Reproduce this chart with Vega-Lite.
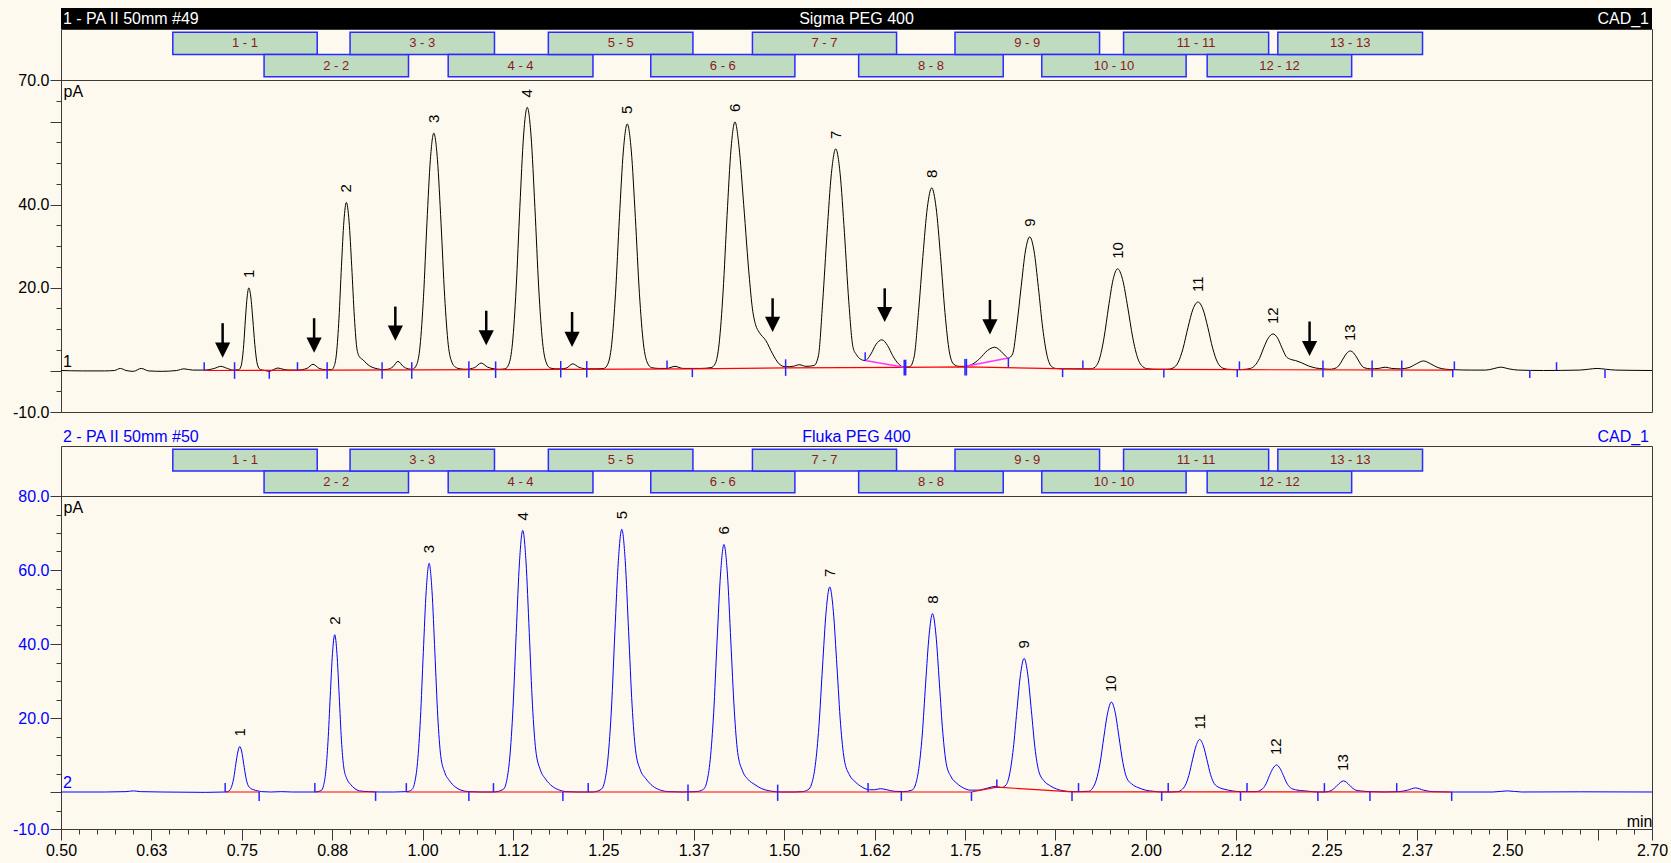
{
"$schema": "https://vega.github.io/schema/vega-lite/v6.json",
"background": "#FEF9EE",
"autosize": {"type": "none"},
"padding": {"left": 61, "top": 8, "right": 1610, "bottom": 855},
"config": {"font": "Liberation Sans", "view": {"stroke": "#3a3a3a", "strokeWidth": 1}},
"datasets": {
"top": [
{"t":0.5,"v":0},{"t":0.53,"v":-0.1},{"t":0.56,"v":-0.1},{"t":0.574,"v":0},{"t":0.582,"v":0.5},{"t":0.59,"v":0},{"t":0.6,"v":-0.2},{"t":0.611,"v":0.5},{"t":0.621,"v":-0.1},{"t":0.64,"v":-0.2},{"t":0.66,"v":0},{"t":0.67,"v":0.4},{"t":0.682,"v":0.1},{"t":0.698,"v":0.1},{"t":0.712,"v":0.5},{"t":0.721,"v":1.0},{"t":0.73,"v":0.5},{"t":0.738,"v":0.1},
{"t":0.7456,"v":0.2},{"t":0.748,"v":0.6},{"t":0.7503,"v":2.2},{"t":0.7527,"v":6.3},{"t":0.755,"v":12.4},{"t":0.7574,"v":17.7},{"t":0.7597,"v":19.9},{"t":0.7625,"v":17.7},{"t":0.7652,"v":12.4},{"t":0.768,"v":6.3},{"t":0.7707,"v":2.2},{"t":0.7735,"v":0.6},{"t":0.7762,"v":0.2},
{"t":0.782,"v":0},{"t":0.788,"v":-0.2},{"t":0.795,"v":0.3},{"t":0.8,"v":0.6},{"t":0.807,"v":0.3},{"t":0.815,"v":0.1},{"t":0.827,"v":0.1},{"t":0.84,"v":0.5},{"t":0.8485,"v":1.5},{"t":0.857,"v":0.5},{"t":0.866,"v":0.2},
{"t":0.8742,"v":0.2},{"t":0.8776,"v":1.0},{"t":0.881,"v":4.2},{"t":0.8844,"v":12.6},{"t":0.8878,"v":25.1},{"t":0.8912,"v":36.0},{"t":0.8946,"v":40.5},{"t":0.8983,"v":36.0},{"t":0.902,"v":25.1},{"t":0.9057,"v":12.8},{"t":0.9094,"v":5.0},{"t":0.9131,"v":3.2},{"t":0.9175,"v":2.6},{"t":0.923,"v":1.6},{"t":0.93,"v":0.8},{"t":0.938,"v":0.4},{"t":0.944,"v":0.2},
{"t":0.952,"v":0.3},{"t":0.959,"v":0.9},{"t":0.966,"v":2.2},{"t":0.973,"v":1.0},{"t":0.98,"v":0.4},{"t":0.986,"v":0.3},
{"t":0.9918,"v":1.4},{"t":0.9965,"v":5.9},{"t":1.0013,"v":17.9},{"t":1.006,"v":35.5},{"t":1.0108,"v":50.9},{"t":1.0155,"v":57.2},{"t":1.0205,"v":50.9},{"t":1.0255,"v":35.5},{"t":1.0305,"v":17.9},{"t":1.0355,"v":6.2},{"t":1.0405,"v":2.0},{"t":1.0455,"v":0.8},{"t":1.052,"v":0.4},{"t":1.06,"v":0.3},
{"t":1.072,"v":0.7},{"t":1.081,"v":1.8},{"t":1.09,"v":0.8},{"t":1.099,"v":0.4},{"t":1.106,"v":0.3},
{"t":1.1141,"v":0.4},{"t":1.1192,"v":1.5},{"t":1.1243,"v":6.6},{"t":1.1294,"v":19.9},{"t":1.1345,"v":39.3},{"t":1.1396,"v":56.5},{"t":1.1447,"v":63.4},{"t":1.15,"v":56.5},{"t":1.1553,"v":39.3},{"t":1.1606,"v":19.9},{"t":1.1659,"v":6.8},{"t":1.1712,"v":1.8},{"t":1.1765,"v":0.6},{"t":1.184,"v":0.4},{"t":1.191,"v":0.4},
{"t":1.199,"v":0.6},{"t":1.2076,"v":1.6},{"t":1.216,"v":0.8},{"t":1.227,"v":0.4},{"t":1.24,"v":0.4},
{"t":1.2506,"v":0.5},{"t":1.256,"v":1.5},{"t":1.2614,"v":6.2},{"t":1.2668,"v":18.6},{"t":1.2722,"v":36.9},{"t":1.2776,"v":52.9},{"t":1.283,"v":59.4},{"t":1.2886,"v":52.9},{"t":1.2942,"v":36.9},{"t":1.2998,"v":18.6},{"t":1.3054,"v":6.4},{"t":1.311,"v":1.8},{"t":1.3166,"v":0.7},{"t":1.326,"v":0.5},{"t":1.338,"v":0.5},{"t":1.349,"v":1.0},{"t":1.36,"v":0.5},{"t":1.373,"v":0.5},{"t":1.385,"v":0.5},
{"t":1.399,"v":0.7},{"t":1.4045,"v":1.6},{"t":1.41,"v":6.4},{"t":1.4155,"v":18.9},{"t":1.421,"v":37.3},{"t":1.4265,"v":53.4},{"t":1.432,"v":59.9},{"t":1.4375,"v":54.0},{"t":1.444,"v":40.0},{"t":1.452,"v":22.0},{"t":1.456,"v":15.0},{"t":1.4605,"v":11.0},{"t":1.4655,"v":9.2},{"t":1.4747,"v":7.2},{"t":1.484,"v":4.0},{"t":1.493,"v":1.6},{"t":1.502,"v":0.9},
{"t":1.512,"v":1.0},{"t":1.521,"v":1.4},{"t":1.53,"v":1.0},
{"t":1.5413,"v":1.2},{"t":1.5473,"v":3.5},{"t":1.5533,"v":16.7},{"t":1.5593,"v":33.2},{"t":1.5653,"v":47.5},{"t":1.5713,"v":53.4},{"t":1.5773,"v":47.5},{"t":1.5833,"v":33.2},{"t":1.5893,"v":16.7},{"t":1.5953,"v":5.5},{"t":1.6,"v":3.8},{"t":1.605,"v":2.8},{"t":1.612,"v":2.4},
{"t":1.62,"v":4.0},{"t":1.627,"v":6.3},{"t":1.635,"v":7.4},{"t":1.643,"v":6.0},{"t":1.65,"v":3.6},{"t":1.658,"v":1.6},{"t":1.666,"v":0.8},
{"t":1.6735,"v":0.9},{"t":1.6796,"v":3.2},{"t":1.6857,"v":14.0},{"t":1.6918,"v":27.5},{"t":1.6979,"v":39.2},{"t":1.704,"v":44.0},{"t":1.7101,"v":39.2},{"t":1.7162,"v":27.5},{"t":1.7223,"v":14.0},{"t":1.7284,"v":4.5},{"t":1.7345,"v":1.5},{"t":1.742,"v":1.0},{"t":1.751,"v":1.0},
{"t":1.76,"v":1.5},{"t":1.77,"v":2.8},{"t":1.781,"v":4.8},{"t":1.791,"v":5.6},{"t":1.8,"v":4.6},{"t":1.806,"v":3.5},{"t":1.81,"v":3.0},
{"t":1.8159,"v":4.0},{"t":1.8218,"v":11.0},{"t":1.8277,"v":20.2},{"t":1.8336,"v":28.8},{"t":1.8395,"v":32.2},{"t":1.8455,"v":28.8},{"t":1.8515,"v":20.0},{"t":1.8575,"v":10.2},{"t":1.8635,"v":3.6},{"t":1.8695,"v":1.0},{"t":1.8755,"v":0.5},{"t":1.885,"v":0.4},{"t":1.9,"v":0.4},{"t":1.913,"v":0.4},
{"t":1.9235,"v":0.4},{"t":1.9298,"v":0.8},{"t":1.936,"v":2.8},{"t":1.9423,"v":7.9},{"t":1.9485,"v":15.3},{"t":1.9548,"v":21.9},{"t":1.961,"v":24.5},{"t":1.968,"v":21.9},{"t":1.975,"v":15.3},{"t":1.982,"v":7.9},{"t":1.989,"v":2.9},{"t":1.996,"v":0.9},{"t":2.003,"v":0.4},{"t":2.015,"v":0.3},
{"t":2.0308,"v":0.3},{"t":2.0377,"v":0.6},{"t":2.0446,"v":1.9},{"t":2.0515,"v":5.3},{"t":2.0584,"v":10.4},{"t":2.0653,"v":14.8},{"t":2.0722,"v":16.5},{"t":2.079,"v":14.8},{"t":2.0858,"v":10.4},{"t":2.0926,"v":5.3},{"t":2.0994,"v":1.9},{"t":2.1062,"v":0.6},{"t":2.113,"v":0.3},{"t":2.128,"v":0.2},
{"t":2.138,"v":0.3},{"t":2.1447,"v":0.5},{"t":2.1509,"v":1.2},{"t":2.1572,"v":2.9},{"t":2.1634,"v":5.6},{"t":2.1697,"v":7.9},{"t":2.1759,"v":8.8},{"t":2.182,"v":7.9},{"t":2.188,"v":5.6},{"t":2.194,"v":3.4},{"t":2.2,"v":2.7},{"t":2.207,"v":2.4},{"t":2.215,"v":1.9},{"t":2.225,"v":1.1},{"t":2.235,"v":0.6},{"t":2.245,"v":0.4},
{"t":2.2546,"v":0.3},{"t":2.264,"v":0.7},{"t":2.2687,"v":1.6},{"t":2.2734,"v":3.0},{"t":2.2781,"v":4.2},{"t":2.2828,"v":4.7},{"t":2.2875,"v":4.2},{"t":2.2922,"v":3.0},{"t":2.2969,"v":1.6},{"t":2.3016,"v":0.7},{"t":2.311,"v":0.4},
{"t":2.322,"v":0.5},{"t":2.331,"v":0.8},{"t":2.34,"v":0.5},{"t":2.352,"v":0.4},{"t":2.364,"v":0.7},{"t":2.374,"v":1.6},{"t":2.384,"v":2.3},{"t":2.394,"v":1.6},{"t":2.404,"v":0.7},{"t":2.415,"v":0.3},{"t":2.425,"v":0.2},{"t":2.45,"v":0.1},{"t":2.47,"v":0.1},{"t":2.48,"v":0.4},{"t":2.491,"v":0.8},{"t":2.502,"v":0.4},{"t":2.515,"v":0.1},{"t":2.55,"v":0},{"t":2.6,"v":0.1},{"t":2.612,"v":0.3},{"t":2.624,"v":0.5},{"t":2.636,"v":0.3},{"t":2.65,"v":0.1},{"t":2.7,"v":0}
],
"bot": [
{"t":0.5,"v":0},{"t":0.56,"v":0},{"t":0.59,"v":0.1},{"t":0.6,"v":0.3},{"t":0.61,"v":0.1},{"t":0.64,"v":0},{"t":0.7,"v":-0.1},{"t":0.727,"v":0},
{"t":0.7307,"v":0.1},{"t":0.7335,"v":0.5},{"t":0.7362,"v":1.6},{"t":0.739,"v":3.9},{"t":0.7417,"v":7.5},{"t":0.7445,"v":10.8},{"t":0.7472,"v":12.3},{"t":0.75,"v":10.8},{"t":0.7527,"v":7.5},{"t":0.7555,"v":4.1},{"t":0.7582,"v":2.0},{"t":0.7621,"v":1.0},{"t":0.7665,"v":0.6},{"t":0.772,"v":0.3},{"t":0.7775,"v":0.1},{"t":0.79,"v":0},{"t":0.805,"v":0.1},{"t":0.82,"v":0},{"t":0.851,"v":0},
{"t":0.8599,"v":0.4},{"t":0.863,"v":1.7},{"t":0.8661,"v":5.5},{"t":0.8692,"v":13.6},{"t":0.8723,"v":25.9},{"t":0.8754,"v":37.4},{"t":0.8785,"v":42.5},{"t":0.8816,"v":37.4},{"t":0.8847,"v":25.9},{"t":0.8878,"v":14.0},{"t":0.8909,"v":6.8},{"t":0.8952,"v":3.6},{"t":0.9002,"v":2.1},{"t":0.9064,"v":0.9},{"t":0.9126,"v":0.3},{"t":0.925,"v":0.1},{"t":0.94,"v":0},{"t":0.96,"v":0},{"t":0.978,"v":0.1},
{"t":0.985,"v":0.6},{"t":0.989,"v":2.5},{"t":0.993,"v":8.0},{"t":0.997,"v":19.8},{"t":1.001,"v":37.7},{"t":1.005,"v":54.4},{"t":1.009,"v":61.8},{"t":1.013,"v":54.4},{"t":1.017,"v":37.7},{"t":1.021,"v":20.4},{"t":1.025,"v":9.9},{"t":1.0306,"v":5.3},{"t":1.037,"v":3.1},{"t":1.045,"v":1.4},{"t":1.053,"v":0.5},{"t":1.064,"v":0.1},{"t":1.08,"v":0},{"t":1.098,"v":0},
{"t":1.1115,"v":0.7},{"t":1.116,"v":2.8},{"t":1.1205,"v":9.2},{"t":1.125,"v":22.6},{"t":1.1295,"v":43.1},{"t":1.134,"v":62.2},{"t":1.1385,"v":70.7},{"t":1.143,"v":62.2},{"t":1.1475,"v":43.1},{"t":1.152,"v":23.3},{"t":1.1565,"v":11.3},{"t":1.1628,"v":6.0},{"t":1.17,"v":3.5},{"t":1.179,"v":1.6},{"t":1.188,"v":0.6},{"t":1.198,"v":0.1},{"t":1.215,"v":0},{"t":1.235,"v":0},
{"t":1.2469,"v":0.7},{"t":1.2517,"v":2.8},{"t":1.2564,"v":9.2},{"t":1.2612,"v":22.7},{"t":1.2659,"v":43.3},{"t":1.2707,"v":62.5},{"t":1.2754,"v":71.0},{"t":1.2802,"v":62.5},{"t":1.2849,"v":43.3},{"t":1.2897,"v":23.4},{"t":1.2944,"v":11.4},{"t":1.301,"v":6.0},{"t":1.3087,"v":3.6},{"t":1.3182,"v":1.6},{"t":1.3277,"v":0.6},{"t":1.34,"v":0.1},{"t":1.36,"v":0},{"t":1.378,"v":0.1},
{"t":1.3882,"v":0.7},{"t":1.393,"v":2.7},{"t":1.3977,"v":8.7},{"t":1.4025,"v":21.4},{"t":1.4072,"v":40.8},{"t":1.412,"v":58.9},{"t":1.4167,"v":66.9},{"t":1.4215,"v":58.9},{"t":1.4262,"v":40.8},{"t":1.431,"v":22.1},{"t":1.4357,"v":10.7},{"t":1.4424,"v":5.7},{"t":1.45,"v":3.4},{"t":1.4595,"v":2.0},{"t":1.469,"v":0.9},{"t":1.48,"v":0.3},{"t":1.495,"v":0},{"t":1.515,"v":0},{"t":1.525,"v":0.1},
{"t":1.533,"v":0.6},{"t":1.538,"v":2.2},{"t":1.543,"v":7.2},{"t":1.548,"v":17.7},{"t":1.553,"v":33.8},{"t":1.558,"v":48.8},{"t":1.563,"v":55.4},{"t":1.568,"v":48.8},{"t":1.573,"v":33.8},{"t":1.578,"v":18.3},{"t":1.583,"v":8.9},{"t":1.59,"v":4.7},{"t":1.598,"v":2.8},{"t":1.608,"v":1.3},{"t":1.618,"v":0.6},{"t":1.625,"v":0.6},{"t":1.633,"v":0.9},{"t":1.642,"v":0.6},{"t":1.652,"v":0.2},{"t":1.665,"v":0.1},
{"t":1.6766,"v":0.5},{"t":1.6814,"v":1.9},{"t":1.6861,"v":6.3},{"t":1.6909,"v":15.4},{"t":1.6956,"v":29.4},{"t":1.7004,"v":42.4},{"t":1.7051,"v":48.2},{"t":1.7099,"v":42.4},{"t":1.7146,"v":29.4},{"t":1.7194,"v":15.9},{"t":1.7241,"v":7.7},{"t":1.7308,"v":4.1},{"t":1.7384,"v":2.4},{"t":1.7479,"v":1.1},{"t":1.7574,"v":0.5},{"t":1.768,"v":0.5},{"t":1.78,"v":1.0},{"t":1.792,"v":1.5},{"t":1.8,"v":1.2},
{"t":1.8068,"v":1.9},{"t":1.8118,"v":4.9},{"t":1.8168,"v":11.7},{"t":1.8218,"v":22.0},{"t":1.8268,"v":31.8},{"t":1.8318,"v":36.1},{"t":1.8368,"v":31.8},{"t":1.8418,"v":22.0},{"t":1.8468,"v":11.9},{"t":1.8518,"v":5.8},{"t":1.8588,"v":3.1},{"t":1.8668,"v":1.8},{"t":1.8768,"v":0.8},{"t":1.8868,"v":0.3},{"t":1.898,"v":0.1},{"t":1.91,"v":0.1},
{"t":1.921,"v":0.2},{"t":1.9263,"v":1.0},{"t":1.9315,"v":3.2},{"t":1.9368,"v":7.8},{"t":1.942,"v":14.8},{"t":1.9473,"v":21.4},{"t":1.9525,"v":24.3},{"t":1.9578,"v":21.4},{"t":1.963,"v":14.8},{"t":1.9683,"v":8.0},{"t":1.9735,"v":3.9},{"t":1.981,"v":2.1},{"t":1.9893,"v":1.2},{"t":1.9998,"v":0.5},{"t":2.0103,"v":0.2},{"t":2.022,"v":0},{"t":2.035,"v":0},
{"t":2.0446,"v":0.1},{"t":2.0496,"v":0.6},{"t":2.0546,"v":1.8},{"t":2.0596,"v":4.5},{"t":2.0646,"v":8.7},{"t":2.0696,"v":12.5},{"t":2.0746,"v":14.2},{"t":2.0796,"v":12.5},{"t":2.0846,"v":8.7},{"t":2.0896,"v":4.7},{"t":2.0946,"v":2.3},{"t":2.1016,"v":1.2},{"t":2.1096,"v":0.7},{"t":2.1196,"v":0.3},{"t":2.131,"v":0.1},
{"t":2.1522,"v":0.1},{"t":2.1617,"v":0.9},{"t":2.1665,"v":2.3},{"t":2.1712,"v":4.5},{"t":2.176,"v":6.4},{"t":2.1807,"v":7.3},{"t":2.1855,"v":6.4},{"t":2.1902,"v":4.5},{"t":2.195,"v":2.4},{"t":2.1997,"v":1.2},{"t":2.207,"v":0.6},{"t":2.214,"v":0.4},{"t":2.225,"v":0.2},{"t":2.238,"v":0},
{"t":2.2479,"v":0},{"t":2.2564,"v":0.4},{"t":2.2607,"v":1.0},{"t":2.2649,"v":1.8},{"t":2.2692,"v":2.6},{"t":2.2734,"v":3.0},{"t":2.2777,"v":2.6},{"t":2.2819,"v":1.8},{"t":2.2862,"v":1.0},{"t":2.2904,"v":0.5},{"t":2.2964,"v":0.3},{"t":2.31,"v":0.1},{"t":2.33,"v":0},{"t":2.35,"v":0.1},{"t":2.362,"v":0.5},{"t":2.373,"v":1.1},{"t":2.384,"v":0.5},{"t":2.396,"v":0.1},{"t":2.42,"v":0},{"t":2.48,"v":0},{"t":2.5,"v":0.3},{"t":2.52,"v":0},{"t":2.6,"v":0.05},{"t":2.7,"v":0}
],
"topbase": [{"seg":"a","t":0.698,"v":0},{"seg":"a","t":1.1,"v":0.2},{"seg":"a","t":1.373,"v":0.4},{"seg":"a","t":1.502,"v":0.65},{"seg":"a","t":1.666,"v":0.75},{"seg":"a","t":1.751,"v":0.85},{"seg":"a","t":1.913,"v":0.35},{"seg":"a","t":2.128,"v":0.2},{"seg":"a","t":2.425,"v":0.1}],
"botbase": [{"seg":"a","t":0.727,"v":0},{"seg":"a","t":0.774,"v":0},{"seg":"b","t":0.851,"v":0},{"seg":"b","t":0.935,"v":0},{"seg":"c","t":0.9775,"v":0},{"seg":"c","t":1.759,"v":0},{"seg":"c","t":1.794,"v":1.3},{"seg":"c","t":1.898,"v":0.05},{"seg":"c","t":2.423,"v":0}],
"magenta": [{"seg":"a","t":1.612,"v":2.4},{"seg":"a","t":1.666,"v":0.8},{"seg":"b","t":1.751,"v":1.0},{"seg":"b","t":1.81,"v":3.0}],
"topticks": [{"t":0.698,"lo":0,"hi":2},{"t":0.74,"lo":-2,"hi":2},{"t":0.788,"lo":-2,"hi":0},{"t":0.827,"lo":0,"hi":2},{"t":0.868,"lo":-2,"hi":2},{"t":0.944,"lo":-2,"hi":2},{"t":0.985,"lo":-2,"hi":2},{"t":1.064,"lo":-1.8,"hi":2.2},{"t":1.101,"lo":-1.8,"hi":2.2},{"t":1.191,"lo":-1.7,"hi":2.3},{"t":1.227,"lo":-1.7,"hi":2.3},{"t":1.338,"lo":0.4,"hi":2.4},{"t":1.373,"lo":-1.6,"hi":0.4},{"t":1.502,"lo":-1.3,"hi":2.7},{"t":1.612,"lo":2.4,"hi":4.4},{"t":1.666,"lo":-1.2,"hi":2.6},{"t":1.668,"lo":-1.2,"hi":2.6},{"t":1.75,"lo":-1.2,"hi":2.8},{"t":1.752,"lo":-1.2,"hi":2.8},{"t":1.81,"lo":0.8,"hi":3.0},{"t":1.885,"lo":-1.6,"hi":0.4},{"t":1.913,"lo":0.4,"hi":2.4},{"t":2.025,"lo":-1.7,"hi":0.3},{"t":2.1265,"lo":-1.6,"hi":0.2},{"t":2.1295,"lo":0.2,"hi":2.2},{"t":2.245,"lo":-1.6,"hi":2.4},{"t":2.313,"lo":-1.6,"hi":2.4},{"t":2.354,"lo":-1.6,"hi":2.4},{"t":2.4245,"lo":-1.6,"hi":0.1},{"t":2.4267,"lo":0.1,"hi":2.2},{"t":2.531,"lo":-1.8,"hi":0.1},{"t":2.568,"lo":0.1,"hi":2.0},{"t":2.635,"lo":-1.8,"hi":0.1}],
"botticks": [{"t":0.727,"lo":0,"hi":2.4},{"t":0.774,"lo":-2.4,"hi":0},{"t":0.851,"lo":0,"hi":2.4},{"t":0.935,"lo":-2.4,"hi":0},{"t":0.9775,"lo":0,"hi":2.4},{"t":1.064,"lo":-2.4,"hi":0},{"t":1.098,"lo":0,"hi":2.4},{"t":1.194,"lo":-2.4,"hi":0},{"t":1.229,"lo":0,"hi":2.4},{"t":1.367,"lo":-2.4,"hi":2.0},{"t":1.491,"lo":-2.4,"hi":2.0},{"t":1.616,"lo":0,"hi":2.4},{"t":1.662,"lo":-2.4,"hi":0},{"t":1.759,"lo":-2.4,"hi":0},{"t":1.794,"lo":1.3,"hi":3.4},{"t":1.898,"lo":-2.4,"hi":0},{"t":1.907,"lo":0,"hi":2.4},{"t":2.022,"lo":-2.4,"hi":0},{"t":2.031,"lo":0,"hi":2.4},{"t":2.131,"lo":-2.4,"hi":0},{"t":2.14,"lo":0,"hi":2.4},{"t":2.238,"lo":-2.4,"hi":0},{"t":2.247,"lo":0,"hi":2.4},{"t":2.31,"lo":-2.4,"hi":0},{"t":2.347,"lo":0,"hi":2.4},{"t":2.423,"lo":-2.4,"hi":0}],
"toplabels": [{"t":0.7597,"v":19.9,"label":"1"},{"t":0.8946,"v":40.5,"label":"2"},{"t":1.0155,"v":57.2,"label":"3"},{"t":1.1447,"v":63.4,"label":"4"},{"t":1.283,"v":59.4,"label":"5"},{"t":1.432,"v":59.9,"label":"6"},{"t":1.5713,"v":53.4,"label":"7"},{"t":1.704,"v":44.0,"label":"8"},{"t":1.8395,"v":32.2,"label":"9"},{"t":1.961,"v":24.5,"label":"10"},{"t":2.0722,"v":16.5,"label":"11"},{"t":2.1759,"v":8.8,"label":"12"},{"t":2.2828,"v":4.7,"label":"13"}],
"botlabels": [{"t":0.7472,"v":12.3,"label":"1"},{"t":0.8785,"v":42.5,"label":"2"},{"t":1.009,"v":61.8,"label":"3"},{"t":1.1385,"v":70.7,"label":"4"},{"t":1.2754,"v":71.0,"label":"5"},{"t":1.4167,"v":66.9,"label":"6"},{"t":1.563,"v":55.4,"label":"7"},{"t":1.7051,"v":48.2,"label":"8"},{"t":1.8318,"v":36.1,"label":"9"},{"t":1.9525,"v":24.3,"label":"10"},{"t":2.0746,"v":14.2,"label":"11"},{"t":2.1807,"v":7.3,"label":"12"},{"t":2.2734,"v":3.0,"label":"13"}],
"arrows": [{"t":0.7235,"top":11.4,"head":4.9},{"t":0.85,"top":12.6,"head":6.1},{"t":0.9623,"top":15.4,"head":9.0},{"t":1.088,"top":14.4,"head":7.9},{"t":1.2067,"top":14.1,"head":7.5},{"t":1.484,"top":17.4,"head":11.1},{"t":1.639,"top":19.8,"head":13.5},{"t":1.7845,"top":17.0,"head":10.5},{"t":2.2265,"top":11.8,"head":5.3}],
"boxes": [{"lane":"a","label":"1 - 1","start":0.6546,"end":0.8543},{"lane":"b","label":"2 - 2","start":0.7808,"end":0.9805},{"lane":"a","label":"3 - 3","start":0.8997,"end":1.0994},{"lane":"b","label":"4 - 4","start":1.0354,"end":1.2356},{"lane":"a","label":"5 - 5","start":1.1739,"end":1.3738},{"lane":"b","label":"6 - 6","start":1.3155,"end":1.5148},{"lane":"a","label":"7 - 7","start":1.4561,"end":1.6554},{"lane":"b","label":"8 - 8","start":1.603,"end":1.8029},{"lane":"a","label":"9 - 9","start":1.7362,"end":1.9361},{"lane":"b","label":"10 - 10","start":1.8562,"end":2.0558},{"lane":"a","label":"11 - 11","start":1.9693,"end":2.1699},{"lane":"b","label":"12 - 12","start":2.0849,"end":2.2847},{"lane":"a","label":"13 - 13","start":2.1826,"end":2.3827}]
},
"bounds": "flush",
"spacing": 0,
"vconcat": [
 {"width": 1591, "height": 21, "view": {"fill": "#000000", "stroke": null},
  "layer": [
   {"data": {"values": [{"t": 0.5, "label": "1 - PA II 50mm #49"}]}, "mark": {"type": "text", "align": "left", "dx": 2, "fontSize": 16, "color": "#ffffff"}, "encoding": {"x": {"field": "t", "type": "quantitative", "scale": {"domain": [0.5, 2.7], "nice": false, "zero": false}, "axis": null}, "text": {"field": "label"}}},
   {"data": {"values": [{"t": 1.6, "label": "Sigma PEG 400"}]}, "mark": {"type": "text", "align": "center", "fontSize": 16, "color": "#ffffff"}, "encoding": {"x": {"field": "t", "type": "quantitative", "axis": null}, "text": {"field": "label"}}},
   {"data": {"values": [{"t": 2.7, "label": "CAD_1"}]}, "mark": {"type": "text", "align": "right", "dx": -3, "fontSize": 16, "color": "#ffffff"}, "encoding": {"x": {"field": "t", "type": "quantitative", "axis": null}, "text": {"field": "label"}}}
  ]},
 {"width": 1591, "height": 51, "data": {"name": "boxes"}, "transform": [{"calculate": "(datum.start + datum.end) / 2", "as": "mid"}],
  "layer": [
   {"mark": {"type": "rect", "fill": "#C0DCC0", "stroke": "#2B2BFF", "strokeWidth": 1.5}, "encoding": {"x": {"field": "start", "type": "quantitative", "scale": {"domain": [0.5, 2.7], "nice": false, "zero": false}, "axis": null}, "x2": {"field": "end"}, "y": {"field": "lane", "type": "nominal", "scale": {"domain": ["a", "b"], "paddingInner": 0, "paddingOuter": 0.15}, "axis": null}}},
   {"mark": {"type": "text", "fontSize": 13, "color": "#8B1A1A"}, "encoding": {"x": {"field": "mid", "type": "quantitative", "axis": null}, "y": {"field": "lane", "type": "nominal", "axis": null}, "text": {"field": "label"}}}
  ]},
 {"width": 1591, "height": 332,
  "resolve": {"axis": {"y": "independent"}},
  "layer": [
   {"data": {"name": "top"}, "mark": {"type": "line", "color": "#000000", "strokeWidth": 1, "interpolate": "monotone"},
    "encoding": {"x": {"field": "t", "type": "quantitative", "scale": {"domain": [0.5, 2.7], "nice": false, "zero": false}, "axis": null},
     "y": {"field": "v", "type": "quantitative", "scale": {"domain": [-10, 70], "nice": false, "zero": false},
      "axis": {"orient": "left", "values": [70,60,40,20,0,-10], "grid": false, "tickSize": 11,
       "labelExpr": "indexof([70,40,20,-10], datum.value) >= 0 ? (datum.value < 0 ? '-' + format(-datum.value, '.1f') : format(datum.value, '.1f')) : ''",
       "labelPadding": 1, "labelFontSize": 16, "labelColor": "#000000", "labelOverlap": false, "labelFlush": false, "labelBound": false,
       "domainColor": "#3a3a3a", "tickColor": "#3a3a3a",
       "title": "pA", "titleAngle": 0, "titleX": 2, "titleY": 3, "titleAlign": "left", "titleBaseline": "top", "titleFontWeight": "normal", "titleFontSize": 16, "titleColor": "#000000"}}}},
   {"data": {"name": "topbase"}, "mark": {"type": "line", "color": "#FF0000", "strokeWidth": 1.2}, "encoding": {"x": {"field": "t", "type": "quantitative", "axis": null}, "y": {"field": "v", "type": "quantitative", "axis": {"orient": "left", "values": [65,55,50,45,35,30,25,15,10,5,-5], "tickSize": 5, "labels": false, "domain": false, "grid": false, "title": null, "tickColor": "#3a3a3a"}}, "detail": {"field": "seg"}}},
   {"data": {"name": "magenta"}, "mark": {"type": "line", "color": "#FF33FF", "strokeWidth": 1.5}, "encoding": {"x": {"field": "t", "type": "quantitative", "axis": null}, "y": {"field": "v", "type": "quantitative", "axis": null}, "detail": {"field": "seg"}}},
   {"data": {"name": "topticks"}, "mark": {"type": "rule", "color": "#2626FF", "strokeWidth": 1.5}, "encoding": {"x": {"field": "t", "type": "quantitative", "axis": null}, "y": {"field": "lo", "type": "quantitative", "axis": null}, "y2": {"field": "hi"}}},
   {"data": {"name": "arrows"}, "mark": {"type": "rule", "color": "#000000", "strokeWidth": 2.5}, "encoding": {"x": {"field": "t", "type": "quantitative", "axis": null}, "y": {"field": "top", "type": "quantitative", "axis": null}, "y2": {"field": "head"}}},
   {"data": {"name": "arrows"}, "mark": {"type": "point", "shape": "M-1,-1L1,-1L0,1Z", "size": 230, "filled": true, "color": "#000000", "opacity": 1, "strokeWidth": 0}, "encoding": {"x": {"field": "t", "type": "quantitative", "axis": null}, "y": {"field": "head", "type": "quantitative", "axis": null}}},
   {"data": {"name": "toplabels"}, "mark": {"type": "text", "angle": 270, "align": "left", "baseline": "middle", "dx": 10, "fontSize": 15, "color": "#000000"}, "encoding": {"x": {"field": "t", "type": "quantitative", "axis": null}, "y": {"field": "v", "type": "quantitative", "axis": null}, "text": {"field": "label"}}},
   {"data": {"values": [{"t": 0.5, "v": 0, "label": "1"}]}, "mark": {"type": "text", "align": "left", "baseline": "bottom", "dx": 2, "dy": -1, "fontSize": 16, "color": "#000000"}, "encoding": {"x": {"field": "t", "type": "quantitative", "axis": null}, "y": {"field": "v", "type": "quantitative", "axis": null}, "text": {"field": "label"}}}
  ]},
 {"width": 1591, "height": 34, "view": {"stroke": null},
  "layer": [
   {"data": {"values": [{"t": 0.5, "label": "2 - PA II 50mm #50"}]}, "mark": {"type": "text", "align": "left", "baseline": "bottom", "dx": 2, "dy": -1, "fontSize": 16, "color": "#0000FF"}, "encoding": {"x": {"field": "t", "type": "quantitative", "scale": {"domain": [0.5, 2.7], "nice": false, "zero": false}, "axis": null}, "y": {"datum": 0, "type": "quantitative", "scale": {"domain": [0, 1]}, "axis": null}, "text": {"field": "label"}}},
   {"data": {"values": [{"t": 1.6, "label": "Fluka PEG 400"}]}, "mark": {"type": "text", "align": "center", "baseline": "bottom", "dy": -1, "fontSize": 16, "color": "#0000FF"}, "encoding": {"x": {"field": "t", "type": "quantitative", "axis": null}, "y": {"datum": 0, "type": "quantitative", "axis": null}, "text": {"field": "label"}}},
   {"data": {"values": [{"t": 2.7, "label": "CAD_1"}]}, "mark": {"type": "text", "align": "right", "baseline": "bottom", "dx": -3, "dy": -1, "fontSize": 16, "color": "#0000FF"}, "encoding": {"x": {"field": "t", "type": "quantitative", "axis": null}, "y": {"datum": 0, "type": "quantitative", "axis": null}, "text": {"field": "label"}}}
  ]},
 {"width": 1591, "height": 50, "data": {"name": "boxes"}, "transform": [{"calculate": "(datum.start + datum.end) / 2", "as": "mid"}],
  "layer": [
   {"mark": {"type": "rect", "fill": "#C0DCC0", "stroke": "#2B2BFF", "strokeWidth": 1.5}, "encoding": {"x": {"field": "start", "type": "quantitative", "scale": {"domain": [0.5, 2.7], "nice": false, "zero": false}, "axis": null}, "x2": {"field": "end"}, "y": {"field": "lane", "type": "nominal", "scale": {"domain": ["a", "b"], "paddingInner": 0, "paddingOuter": 0.15}, "axis": null}}},
   {"mark": {"type": "text", "fontSize": 13, "color": "#8B1A1A"}, "encoding": {"x": {"field": "mid", "type": "quantitative", "axis": null}, "y": {"field": "lane", "type": "nominal", "axis": null}, "text": {"field": "label"}}}
  ]},
 {"width": 1591, "height": 333,
  "resolve": {"axis": {"x": "independent", "y": "independent"}},
  "layer": [
   {"data": {"name": "bot"}, "mark": {"type": "line", "color": "#0000FF", "strokeWidth": 1, "interpolate": "monotone"},
    "encoding": {"x": {"field": "t", "type": "quantitative", "scale": {"domain": [0.5, 2.7], "nice": false, "zero": false},
      "axis": {"orient": "bottom", "values": [0.5,0.625,0.75,0.875,1,1.125,1.25,1.375,1.5,1.625,1.75,1.875,2,2.125,2.25,2.375,2.5,2.625,2.7], "grid": false, "tickSize": 11,
       "labelExpr": "abs(datum.value - 2.625) < 0.001 ? '' : (datum.value < 0.9 ? format(datum.value, '.2f') : format(floor(datum.value*100 + 0.000001)/100, '.2f'))",
       "labelPadding": 2, "labelFontSize": 16, "labelColor": "#000000", "labelOverlap": false, "labelFlush": false, "labelBound": false,
       "domainColor": "#3a3a3a", "tickColor": "#3a3a3a",
       "title": "min", "titleAnchor": "end", "titleY": -3, "titleBaseline": "alphabetic", "titleFontWeight": "normal", "titleFontSize": 16, "titleColor": "#000000"}},
     "y": {"field": "v", "type": "quantitative", "scale": {"domain": [-10, 80], "nice": false, "zero": false},
      "axis": {"orient": "left", "values": [80,60,40,20,0,-10], "grid": false, "tickSize": 11,
       "labelExpr": "indexof([80,60,40,20,-10], datum.value) >= 0 ? (datum.value < 0 ? '-' + format(-datum.value, '.1f') : format(datum.value, '.1f')) : ''",
       "labelPadding": 1, "labelFontSize": 16, "labelColor": "#0000FF", "labelOverlap": false, "labelFlush": false, "labelBound": false,
       "domainColor": "#3a3a3a", "tickColor": "#3a3a3a",
       "title": "pA", "titleAngle": 0, "titleX": 2, "titleY": 3, "titleAlign": "left", "titleBaseline": "top", "titleFontWeight": "normal", "titleFontSize": 16, "titleColor": "#000000"}}}},
   {"data": {"name": "botbase"}, "mark": {"type": "line", "color": "#FF0000", "strokeWidth": 1.2},
    "encoding": {"x": {"field": "t", "type": "quantitative", "axis": {"orient": "bottom", "values": [0.525,0.55,0.575,0.6,0.65,0.675,0.7,0.725,0.775,0.8,0.825,0.85,0.9,0.925,0.95,0.975,1.025,1.05,1.075,1.1,1.15,1.175,1.2,1.225,1.275,1.3,1.325,1.35,1.4,1.425,1.45,1.475,1.525,1.55,1.575,1.6,1.65,1.675,1.7,1.725,1.775,1.8,1.825,1.85,1.9,1.925,1.95,1.975,2.025,2.05,2.075,2.1,2.15,2.175,2.2,2.225,2.275,2.3,2.325,2.35,2.4,2.425,2.45,2.475,2.525,2.55,2.575,2.6,2.65,2.675], "tickSize": 5, "labels": false, "domain": false, "grid": false, "title": null, "tickColor": "#3a3a3a"}},
     "y": {"field": "v", "type": "quantitative", "axis": {"orient": "left", "values": [75,70,65,55,50,45,35,30,25,15,10,5,-5], "tickSize": 5, "labels": false, "domain": false, "grid": false, "title": null, "tickColor": "#3a3a3a"}}, "detail": {"field": "seg"}}},
   {"data": {"name": "botticks"}, "mark": {"type": "rule", "color": "#2626FF", "strokeWidth": 1.5}, "encoding": {"x": {"field": "t", "type": "quantitative", "axis": null}, "y": {"field": "lo", "type": "quantitative", "axis": null}, "y2": {"field": "hi"}}},
   {"data": {"name": "botlabels"}, "mark": {"type": "text", "angle": 270, "align": "left", "baseline": "middle", "dx": 10, "fontSize": 15, "color": "#000000"}, "encoding": {"x": {"field": "t", "type": "quantitative", "axis": null}, "y": {"field": "v", "type": "quantitative", "axis": null}, "text": {"field": "label"}}},
   {"data": {"values": [{"t": 0.5, "v": 0, "label": "2"}]}, "mark": {"type": "text", "align": "left", "baseline": "bottom", "dx": 2, "dy": -1, "fontSize": 16, "color": "#0000FF"}, "encoding": {"x": {"field": "t", "type": "quantitative", "axis": null}, "y": {"field": "v", "type": "quantitative", "axis": null}, "text": {"field": "label"}}}
  ]}
]
}
